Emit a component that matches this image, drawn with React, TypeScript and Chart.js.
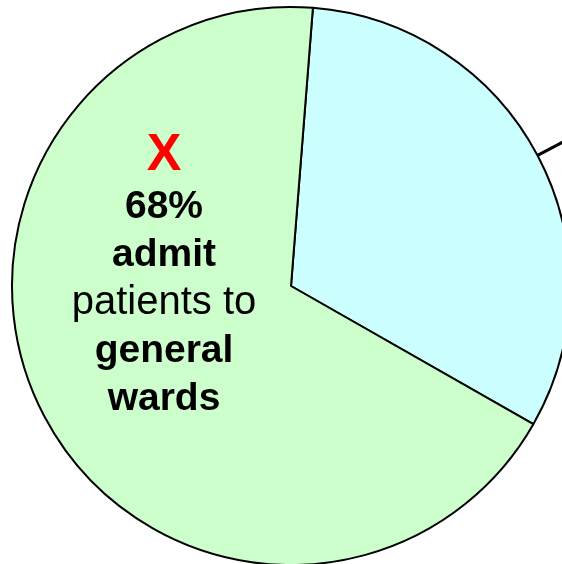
import React, { useEffect, useRef } from "react";
import { Chart, registerables } from "chart.js";

Chart.register(...registerables);

const categories = ["Other", "General wards"];
const shares = [32, 68];
const sliceColors = ["#CCFFFF", "#CCFFCC"];

const labelLines = ["X", "68%", "admit", "patients to", "general", "wards"];
const labelBold = [true, true, true, false, true, true];
const labelColors = ["#FF0000", "#000000", "#000000", "#000000", "#000000", "#000000"];
const labelSizes = [52, 39, 39, 40, 39, 39];

const FONT = "'Liberation Sans', Arial, Helvetica, sans-serif";

const overlayPlugin = {
  id: "overlay",
  afterDatasetsDraw(chart: any) {
    const ctx = chart.ctx;
    const meta = chart.getDatasetMeta(0);
    const arc: any = meta.data[0];
    if (!arc) return;
    const { x, y, startAngle, endAngle, outerRadius } = arc.getProps(
      ["x", "y", "startAngle", "endAngle", "outerRadius"],
      true
    );
    const mid = (startAngle + endAngle) / 2;
    ctx.save();
    ctx.strokeStyle = "#000";
    ctx.lineWidth = 3;
    ctx.beginPath();
    ctx.moveTo(x + Math.cos(mid) * outerRadius, y + Math.sin(mid) * outerRadius);
    ctx.lineTo(x + Math.cos(mid) * (outerRadius + 40), y + Math.sin(mid) * (outerRadius + 40));
    ctx.stroke();

    const tx = x - 127;
    const baseY = y - 116;
    ctx.textAlign = "center";
    ctx.textBaseline = "alphabetic";
    labelLines.forEach((t, i) => {
      ctx.font = `${labelBold[i] ? "bold " : ""}${labelSizes[i]}px ${FONT}`;
      ctx.fillStyle = labelColors[i];
      ctx.fillText(t, tx, baseY + i * 48);
    });
    ctx.restore();
  },
};

export default function App() {
  const ref = useRef<HTMLCanvasElement | null>(null);
  useEffect(() => {
    if (!ref.current) return;
    const chart = new Chart(ref.current, {
      type: "pie",
      data: {
        labels: categories,
        datasets: [
          {
            data: shares,
            backgroundColor: sliceColors,
            borderColor: "#000000",
            borderWidth: 2,
            clip: false as any,
          } as any,
        ],
      },
      options: {
        responsive: false,
        animation: false,
        rotation: 4.5,
        radius: 279,
        layout: { padding: { left: 20, top: 8, right: 0, bottom: 0 } },
        plugins: {
          legend: { display: false },
          tooltip: { enabled: false },
        },
      } as any,
      plugins: [overlayPlugin],
    });
    return () => chart.destroy();
  }, []);
  return (
    <div style={{ position: "fixed", left: 0, top: 0, width: 562, height: 564, background: "#fff" }}>
      <canvas ref={ref} width={562} height={564} style={{ width: 562, height: 564, display: "block" }} />
    </div>
  );
}
